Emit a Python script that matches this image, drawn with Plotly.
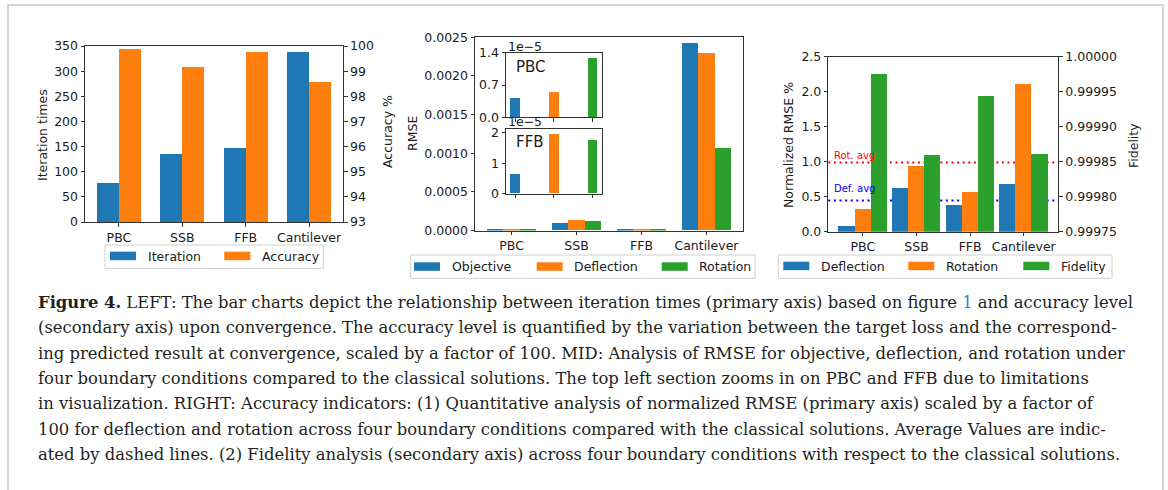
import plotly.graph_objects as go

# ---------------- data ----------------
categories = ["PBC", "SSB", "FFB", "Cantilever"]

iteration_times = [77, 135, 147, 339]
accuracy_pct = [99.88, 99.17, 99.76, 98.55]

rmse_names = ["Objective", "Deflection", "Rotation"]
rmse_objective = [0.43e-5, 8.7e-5, 0.65e-5, 2.42e-3]
rmse_deflection = [0.55e-5, 1.30e-4, 1.97e-5, 2.29e-3]
rmse_rotation = [1.29e-5, 1.17e-4, 1.76e-5, 1.06e-3]

norm_rmse_deflection = [0.08, 0.63, 0.38, 0.69]
norm_rmse_rotation = [0.33, 0.94, 0.57, 2.12]
fidelity = [0.999976, 0.999860, 0.999945, 0.999861]

caption_lines = [
    "<b>Figure 4.</b> LEFT: The bar charts depict the relationship between iteration times (primary axis) based on figure <span style='color:#2f86c3'>1</span> and accuracy level",
    "(secondary axis) upon convergence. The accuracy level is quantified by the variation between the target loss and the correspond-",
    "ing predicted result at convergence, scaled by a factor of 100. MID: Analysis of RMSE for objective, deflection, and rotation under",
    "four boundary conditions compared to the classical solutions. The top left section zooms in on PBC and FFB due to limitations",
    "in visualization. RIGHT: Accuracy indicators: (1) Quantitative analysis of normalized RMSE (primary axis) scaled by a factor of",
    "100 for deflection and rotation across four boundary conditions compared with the classical solutions. Average Values are indic-",
    "ated by dashed lines. (2) Fidelity analysis (secondary axis) across four boundary conditions with respect to the classical solutions.",
]

# ---------------- style ----------------
W, H = 1168, 490
BLUE, ORANGE, GREEN = "#1f77b4", "#ff7f0e", "#2ca02c"
AX = "#333333"
TXT = "#1a1a1a"
FONT = "DejaVu Sans"
FS = 12.5


def X(px):
    return px / W


def Y(px):
    return 1 - px / H


pos = list(range(len(categories)))

fig = go.Figure()

# ---- left chart ----
fig.add_trace(go.Bar(x=pos, y=iteration_times, width=0.35, offset=-0.35,
                     marker=dict(color=BLUE, line=dict(width=0)),
                     xaxis="x", yaxis="y", showlegend=False))
fig.add_trace(go.Bar(x=pos, y=accuracy_pct, width=0.35, offset=0,
                     marker=dict(color=ORANGE, line=dict(width=0)),
                     xaxis="x", yaxis="y2", showlegend=False))

# ---- middle chart ----
for vals, col, off in [(rmse_objective, BLUE, -0.375),
                       (rmse_deflection, ORANGE, -0.125),
                       (rmse_rotation, GREEN, 0.125)]:
    fig.add_trace(go.Bar(x=pos, y=vals, width=0.25, offset=off,
                         marker=dict(color=col, line=dict(width=0)),
                         xaxis="x2", yaxis="y3", showlegend=False))

# insets (PBC = index 0, FFB = index 2)
for idx, xa, ya in [(0, "x3", "y4"), (2, "x4", "y5")]:
    for j, (vals, col) in enumerate([(rmse_objective, BLUE),
                                     (rmse_deflection, ORANGE),
                                     (rmse_rotation, GREEN)]):
        fig.add_trace(go.Bar(x=[j], y=[vals[idx]], width=0.25,
                             marker=dict(color=col, line=dict(width=0)),
                             xaxis=xa, yaxis=ya, showlegend=False))

# ---- right chart ----
fig.add_trace(go.Bar(x=pos, y=norm_rmse_deflection, width=0.3, offset=-0.45,
                     marker=dict(color=BLUE, line=dict(width=0)),
                     xaxis="x5", yaxis="y6", showlegend=False))
fig.add_trace(go.Bar(x=pos, y=norm_rmse_rotation, width=0.3, offset=-0.15,
                     marker=dict(color=ORANGE, line=dict(width=0)),
                     xaxis="x5", yaxis="y6", showlegend=False))
fig.add_trace(go.Bar(x=pos, y=fidelity, width=0.3, offset=0.15,
                     marker=dict(color=GREEN, line=dict(width=0)),
                     xaxis="x5", yaxis="y7", showlegend=False))

def_avg = sum(norm_rmse_deflection) / len(norm_rmse_deflection)
rot_avg = sum(norm_rmse_rotation) / len(norm_rmse_rotation)

tickfont = dict(family=FONT, size=FS, color=TXT)
common = dict(showline=True, linecolor=AX, linewidth=1, ticks="outside",
              ticklen=3.5, tickwidth=1, tickcolor=AX, tickfont=tickfont,
              showgrid=False, zeroline=False, automargin=False)

layout = dict(
    width=W, height=H, margin=dict(l=0, r=0, t=0, b=0, autoexpand=False),
    paper_bgcolor="white", plot_bgcolor="white", barmode="overlay",
    bargap=0, showlegend=False,
    # left
    xaxis=dict(domain=[X(85), X(343)], range=[-0.535, 3.535], tickvals=pos,
               ticktext=categories, mirror=True, anchor="y", **common),
    yaxis=dict(domain=[Y(222), Y(46)], range=[0, 350], dtick=50, anchor="x", **common),
    yaxis2=dict(overlaying="y", side="right", range=[93, 100], dtick=1, anchor="x", **common),
    # middle
    xaxis2=dict(domain=[X(475), X(743)], range=[-0.5625, 3.5625], tickvals=pos,
                ticktext=categories, mirror=True, anchor="y3", **common),
    yaxis3=dict(domain=[Y(230.5), Y(37.3)], range=[0, 0.0025],
                tickvals=[0, 0.0005, 0.001, 0.0015, 0.002, 0.0025], tickformat=".4f",
                mirror=True, anchor="x2", **common),
    # inset PBC
    xaxis3=dict(domain=[X(506), X(601.7)], range=[-0.2375, 2.2375], tickvals=[0, 1, 2],
                showticklabels=False, mirror=True, anchor="y4", **common),
    yaxis4=dict(domain=[Y(117.3), Y(52.7)], range=[0, 1.4e-5],
                tickvals=[0, 0.7e-5, 1.4e-5], ticktext=["0.0", "0.7", "1.4"],
                mirror=True, anchor="x3", **common),
    # inset FFB
    xaxis4=dict(domain=[X(506), X(601.7)], range=[-0.2375, 2.2375], tickvals=[0, 1, 2],
                showticklabels=False, mirror=True, anchor="y5", **common),
    yaxis5=dict(domain=[Y(193.7), Y(129.3)], range=[0, 2.12e-5],
                tickvals=[0, 1e-5, 2e-5], ticktext=["0", "1", "2"],
                mirror=True, anchor="x4", **common),
    # right
    xaxis5=dict(domain=[X(828.3), X(1058.3)], range=[-0.645, 3.645], tickvals=pos,
                ticktext=categories, mirror=True, anchor="y6", **common),
    yaxis6=dict(domain=[Y(231.7), Y(56.7)], range=[0, 2.5], dtick=0.5, tickformat=".1f",
                anchor="x5", **common),
    yaxis7=dict(overlaying="y6", side="right", range=[0.99975, 1.0],
                tickvals=[0.99975, 0.9998, 0.99985, 0.9999, 0.99995, 1.0],
                tickformat=".5f", anchor="x5", **common),
)
fig.update_layout(**layout)

shapes = []
annotations = []

# average lines
for val, col in [(rot_avg, "#ff0000"), (def_avg, "#0000ff")]:
    shapes.append(dict(type="line", xref="x5 domain", yref="y6", x0=0, x1=1, y0=val, y1=val,
                       line=dict(color=col, width=2, dash="2px,3.6px"), layer="below"))


def ann(text, x, y, xa="center", ya="middle", size=FS, color=TXT, angle=0, family=FONT):
    annotations.append(dict(text=text, x=X(x), y=Y(y), xref="paper", yref="paper",
                            xanchor=xa, yanchor=ya, showarrow=False, textangle=angle,
                            font=dict(family=family, size=size, color=color)))


ann("Rot. avg", 831.5, 155, xa="left", size=10, color="#ff0000")
ann("Def. avg", 831.5, 189, xa="left", size=10, color="#0000ff")

# axis titles
ann("Iteration times", 42, 135, angle=-90)
ann("Accuracy %", 387, 132, angle=-90)
ann("RMSE", 413, 134, angle=-90)
ann("Normalized RMSE %", 788, 145, angle=-90)
ann("Fidelity", 1133, 146, angle=-90)

# inset labels
ann("1e\u22125", 506, 46, xa="left")
ann("1e\u22125", 506, 121.7, xa="left")
ann("PBC", 514, 67, xa="left", size=15)
ann("FFB", 514, 142, xa="left", size=15)

# legends (manual, matplotlib-like)
legends = [
    ((105, 245, 323.3, 268.3), [("Iteration", BLUE, 110), ("Accuracy", ORANGE, 224.3)], 251.7),
    ((410.7, 255, 755, 278.3), [("Objective", BLUE, 414), ("Deflection", ORANGE, 536.7),
                                ("Rotation", GREEN, 661.7)], 262.3),
    ((778.3, 255, 1112, 278.3), [("Deflection", BLUE, 783.3), ("Rotation", ORANGE, 908.3),
                                 ("Fidelity", GREEN, 1023.3)], 261.7),
]
for (x0, y0, x1, y1), items, py in legends:
    shapes.append(dict(type="rect", xref="paper", yref="paper", x0=X(x0), x1=X(x1),
                       y0=Y(y1), y1=Y(y0), line=dict(color="#d0d0d0", width=1),
                       fillcolor="rgba(255,255,255,0.8)", layer="above"))
    for label, col, px in items:
        shapes.append(dict(type="rect", xref="paper", yref="paper", x0=X(px), x1=X(px + 26),
                           y0=Y(py + 8.5), y1=Y(py), line=dict(width=0), fillcolor=col,
                           layer="above"))
        ann(label, px + 35.5, py + 4.5, xa="left")

# outer frame
shapes.append(dict(type="path", xref="paper", yref="paper",
                   path=f"M {X(8)} {Y(490)} L {X(8)} {Y(5)} L {X(1163)} {Y(5)} L {X(1163)} {Y(490)}",
                   line=dict(color="#c8c8c8", width=1.5)))

# caption
cap_y0, cap_dy = 302.5, 25.3
for i, line in enumerate(caption_lines):
    ann(line, 36, cap_y0 + i * cap_dy, xa="left", size=16.4, color="#231f20",
        family="DejaVu Serif")

fig.update_layout(shapes=shapes, annotations=annotations)

fig.write_html("out.html",
               post_script="document.body.style.margin='0';document.body.style.overflow='hidden';",
               config={"displayModeBar": False})
